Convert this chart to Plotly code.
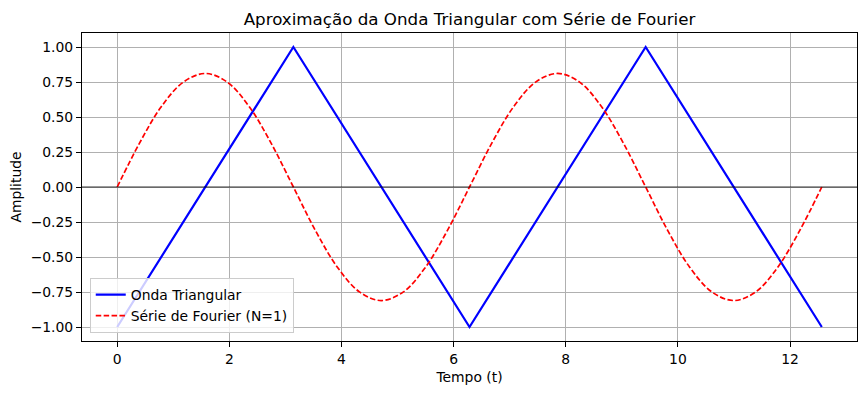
import plotly.graph_objects as go

# Triangle wave vertices (t, amplitude)
tri_t = [0.0, 3.1416, 6.2832, 9.4248, 12.5664]
tri_y = [-1.0, 1.0, -1.0, 1.0, -1.0]

# Fourier series (N=1) curve, values read at steps of ~0.39 in t
four_t = [0.0, 0.393, 0.785, 1.178, 1.571, 1.963, 2.356, 2.749, 3.142,
          3.534, 3.927, 4.320, 4.712, 5.105, 5.498, 5.890, 6.283,
          6.676, 7.069, 7.461, 7.854, 8.247, 8.639, 9.032, 9.425,
          9.817, 10.210, 10.603, 10.996, 11.388, 11.781, 12.174, 12.566]
four_y = [0.0, 0.31, 0.573, 0.749, 0.811, 0.749, 0.573, 0.31, 0.0,
          -0.31, -0.573, -0.749, -0.811, -0.749, -0.573, -0.31, 0.0,
          0.31, 0.573, 0.749, 0.811, 0.749, 0.573, 0.31, 0.0,
          -0.31, -0.573, -0.749, -0.811, -0.749, -0.573, -0.31, 0.0]

x_ticks = [0, 2, 4, 6, 8, 10, 12]
y_ticks = [-1.0, -0.75, -0.5, -0.25, 0.0, 0.25, 0.5, 0.75, 1.0]
y_labels = [("\u2212" if v < 0 else "") + f"{abs(v):.2f}" for v in y_ticks]

title = "Aproximação da Onda Triangular com Série de Fourier"
x_title = "Tempo (t)"
y_title = "Amplitude"

font = "DejaVu Sans"
W, H = 858, 386  # page body has an 8px margin
ML, MR, MT, MB = 74, 9, 25, 53

fig = go.Figure()
fig.add_trace(go.Scatter(x=tri_t, y=tri_y, mode="lines", name="Onda Triangular",
                         line=dict(color="#0000ff", width=2.2)))
fig.add_trace(go.Scatter(x=four_t, y=four_y, mode="lines", name="Série de Fourier (N=1)",
                         line=dict(color="#ff0000", width=1.7, dash="5.5px,2.4px", shape="spline")))

fig.add_shape(type="line", xref="paper", x0=0, x1=1, yref="y", y0=0, y1=0,
              line=dict(color="black", width=0.8), layer="above")

fig.update_layout(
    width=W, height=H,
    margin=dict(l=ML, r=MR, t=MT, b=MB, autoexpand=False),
    paper_bgcolor="white", plot_bgcolor="white",
    font=dict(family=font, size=13.9, color="black"),
    title=dict(text=title, x=(ML + (W - ML - MR) / 2) / W, xref="container", xanchor="center",
               y=1 - 11 / H, yanchor="middle", font=dict(size=16.7)),
    showlegend=True,
    legend=dict(x=0.01, y=0.026, xanchor="left", yanchor="bottom",
                bgcolor="rgba(255,255,255,0.8)", bordercolor="#cccccc", borderwidth=1,
                font=dict(size=13.9), tracegroupgap=0, itemwidth=30),
)

fig.update_xaxes(range=[-0.628, 13.194], tickvals=x_ticks, ticktext=[str(v) for v in x_ticks],
                 showgrid=True, gridcolor="#b0b0b0", gridwidth=0.8,
                 ticks="outside", ticklen=5, tickcolor="black", tickfont=dict(size=13.9),
                 showline=True, linecolor="black", linewidth=1, mirror=True, automargin=False,
                 zeroline=False, title=dict(text=x_title, standoff=6, font=dict(size=13.9)))
fig.update_yaxes(range=[-1.1, 1.1], tickvals=y_ticks, ticktext=y_labels,
                 showgrid=True, gridcolor="#b0b0b0", gridwidth=0.8,
                 ticks="outside", ticklen=5, tickcolor="black", tickfont=dict(size=13.9),
                 showline=True, linecolor="black", linewidth=1, mirror=True, automargin=False,
                 zeroline=False, title=dict(text=y_title, standoff=10, font=dict(size=13.9)))

fig.write_html("out.html")
